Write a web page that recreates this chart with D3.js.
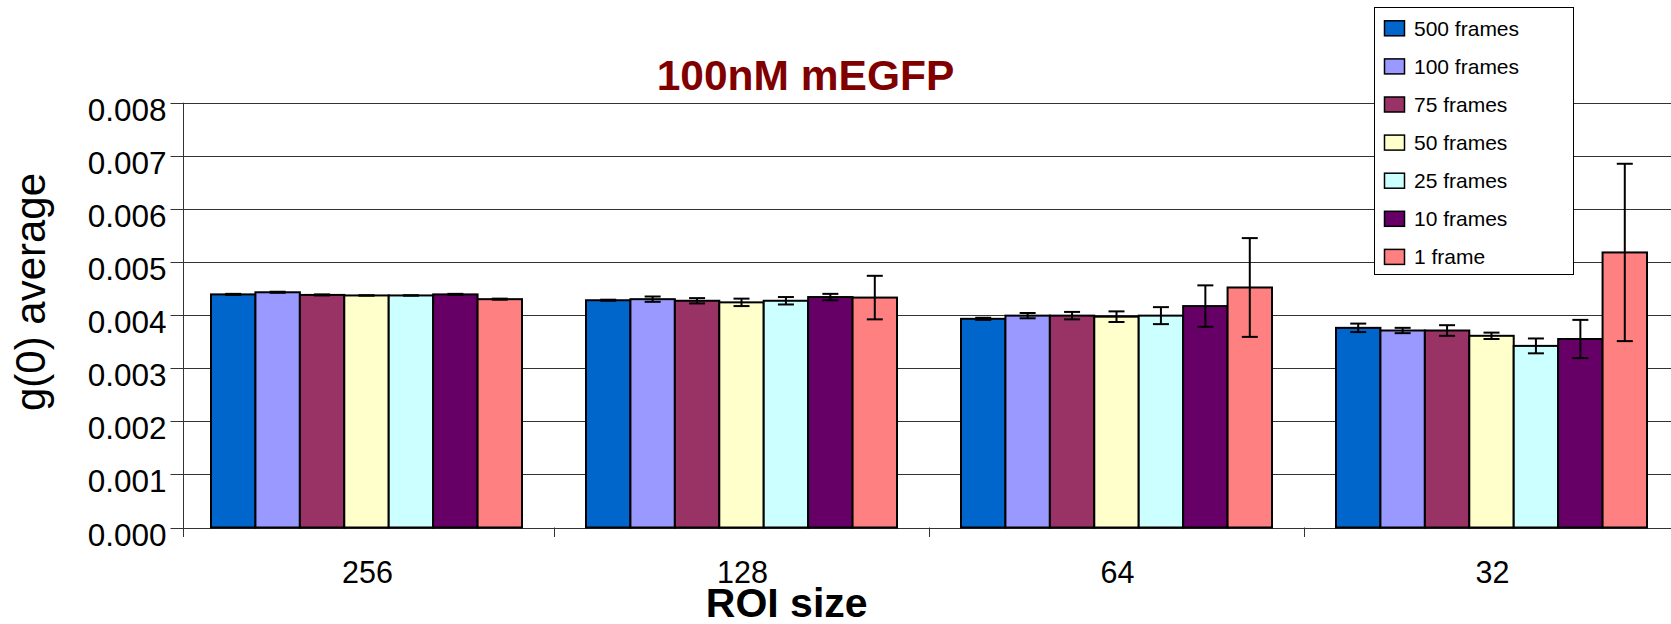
<!DOCTYPE html>
<html>
<head>
<meta charset="utf-8">
<script src="https://cdn.jsdelivr.net/npm/d3@7"></script>
<style>
  html, body { margin: 0; padding: 0; background: #fff; }
  svg { display: block; font-family: "Liberation Sans", Arial, sans-serif; }
</style>
</head>
<body>
<svg id="chart" width="1671" height="624"></svg>
<script>
// ---- data ----
const categories = ["256", "128", "64", "32"];
const seriesNames = ["500 frames", "100 frames", "75 frames", "50 frames", "25 frames", "10 frames", "1 frame"];
const seriesColors = ["#0066CC", "#9999FF", "#993366", "#FFFFCC", "#CCFFFF", "#660066", "#FF8080"];
// values per series, in category order 256,128,64,32
const v500 = [0.00439, 0.00428, 0.00393, 0.00376];
const v100 = [0.00443, 0.00430, 0.00399, 0.00371];
const v75  = [0.00438, 0.00427, 0.00399, 0.00371];
const v50  = [0.00437, 0.00424, 0.00397, 0.00361];
const v25  = [0.00437, 0.00427, 0.00399, 0.00342];
const v10  = [0.00439, 0.00434, 0.00417, 0.00355];
const v1   = [0.00430, 0.00433, 0.00452, 0.00518];
// error bar half-widths
const e500 = [0.00001, 0.00001, 0.00002, 0.00008];
const e100 = [0.00001, 0.00005, 0.00005, 0.00005];
const e75  = [0.00001, 0.00005, 0.00007, 0.00010];
const e50  = [0.00000, 0.00007, 0.00010, 0.00006];
const e25  = [0.00000, 0.00007, 0.00016, 0.00014];
const e10  = [0.00001, 0.00006, 0.00039, 0.00036];
const e1   = [0.00001, 0.00041, 0.00093, 0.00167];
const yTicks = [0, 0.001, 0.002, 0.003, 0.004, 0.005, 0.006, 0.007, 0.008];
const title = "100nM mEGFP";
const xTitle = "ROI size";
const yTitle = "g(0) average";

const values = [v500, v100, v75, v50, v25, v10, v1];
const errors = [e500, e100, e75, e50, e25, e10, e1];

// ---- layout ----
const svg = d3.select("#chart");
const axisX = 183;
const y = d3.scaleLinear().domain([0, 0.008]).range([527.5, 102.7]);
const x0 = d3.scaleBand().domain(categories).range([179, 1679]).padding(0);
const x1 = d3.scaleBand().domain(seriesNames).range([32, 343]).padding(0);

// gridlines
svg.append("g").selectAll("line").data(yTicks).join("line")
  .attr("x1", axisX).attr("x2", 1671)
  .attr("y1", d => Math.round(y(d)) + 0.5).attr("y2", d => Math.round(y(d)) + 0.5)
  .attr("stroke", "#333").attr("stroke-width", 1);

// y axis
const yAxis = d3.axisLeft(y).tickValues(yTicks).tickSize(13).tickPadding(4)
  .tickFormat(d3.format(".3f"));
const gy = svg.append("g").attr("transform", `translate(${axisX + 0.5},0)`).call(yAxis);
gy.select(".domain").remove();
gy.selectAll(".tick line").attr("stroke", "#333");
gy.selectAll(".tick").attr("transform", d => `translate(0,${Math.round(y(d)) + 0.5})`);
gy.selectAll(".tick text")
  .attr("font-size", 31.5).attr("fill", "#000")
  .attr("font-family", "Liberation Sans, Arial, sans-serif")
  .attr("dy", 17.5).attr("x", -17);
svg.append("line").attr("x1", axisX + 0.5).attr("x2", axisX + 0.5)
  .attr("y1", y(0.008)).attr("y2", 537).attr("stroke", "#333");

// x axis ticks at category boundaries
const bounds = categories.slice(1).map(c => x0(c));
svg.append("g").selectAll("line").data(bounds).join("line")
  .attr("x1", d => Math.round(d) + 0.5).attr("x2", d => Math.round(d) + 0.5)
  .attr("y1", 527.5).attr("y2", 537).attr("stroke", "#333");

// x labels
svg.append("g").selectAll("text").data(categories).join("text")
  .attr("x", d => x0(d) + x0.bandwidth() / 2 + 1)
  .attr("y", 583)
  .attr("text-anchor", "middle")
  .attr("font-size", 30.5)
  .text(d => d);

// bars
const groups = svg.append("g").selectAll("g").data(categories).join("g")
  .attr("transform", d => `translate(${x0(d)},0)`);
groups.each(function(cat, ci) {
  const g = d3.select(this);
  const rows = seriesNames.map((s, si) => ({ s, si, v: values[si][ci], e: errors[si][ci] }));
  g.selectAll("rect").data(rows).join("rect")
    .attr("x", d => x1(d.s))
    .attr("y", d => y(d.v))
    .attr("width", x1.bandwidth())
    .attr("height", d => y(0) - y(d.v))
    .attr("fill", d => seriesColors[d.si])
    .attr("stroke", "#000").attr("stroke-width", 2);
  const eb = g.selectAll("g.err").data(rows).join("g").attr("class", "err");
  eb.append("line")
    .attr("x1", d => x1(d.s) + x1.bandwidth() / 2).attr("x2", d => x1(d.s) + x1.bandwidth() / 2)
    .attr("y1", d => y(d.v + d.e)).attr("y2", d => y(d.v - d.e))
    .attr("stroke", "#000").attr("stroke-width", 2);
  eb.selectAll("line.cap").data(d => [
      { d, val: d.v + d.e }, { d, val: d.v - d.e }]).join("line").attr("class", "cap")
    .attr("x1", c => x1(c.d.s) + x1.bandwidth() / 2 - 8)
    .attr("x2", c => x1(c.d.s) + x1.bandwidth() / 2 + 8)
    .attr("y1", c => y(c.val)).attr("y2", c => y(c.val))
    .attr("stroke", "#000").attr("stroke-width", 2);
});

// title
svg.append("text").attr("x", 805.5).attr("y", 90).attr("text-anchor", "middle")
  .attr("font-size", 42.5).attr("font-weight", "bold").attr("fill", "#800000")
  .text(title);

// x title
svg.append("text").attr("x", 786.7).attr("y", 617).attr("text-anchor", "middle")
  .attr("font-size", 41).attr("font-weight", "bold").attr("fill", "#000")
  .text(xTitle);

// y title
svg.append("text").attr("transform", "translate(45,292) rotate(-90)")
  .attr("text-anchor", "middle").attr("font-size", 42).attr("fill", "#000")
  .text(yTitle);

// legend
const lg = svg.append("g");
lg.append("rect").attr("x", 1374.5).attr("y", 7.5).attr("width", 199).attr("height", 267)
  .attr("fill", "#fff").attr("stroke", "#000").attr("stroke-width", 1);
const items = lg.selectAll("g.item").data(seriesNames).join("g").attr("class", "item")
  .attr("transform", (d, i) => `translate(0,${28.3 + i * 38.1})`);
items.append("rect").attr("x", 1384.5).attr("y", -7.5).attr("width", 20).attr("height", 15)
  .attr("fill", (d, i) => seriesColors[i]).attr("stroke", "#000").attr("stroke-width", 1.5);
items.append("text").attr("x", 1414).attr("y", 7.5).attr("font-size", 21).attr("fill", "#000")
  .text(d => d);
</script>
</body>
</html>
